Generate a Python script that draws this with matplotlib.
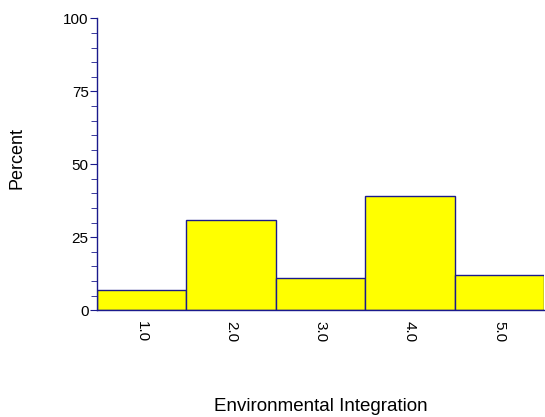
import numpy as np
import matplotlib
matplotlib.use("Agg")
import matplotlib.pyplot as plt
from matplotlib.ticker import MultipleLocator

plt.rcParams['font.family'] = ['Liberation Sans', 'DejaVu Sans']

categories = [1.0, 2.0, 3.0, 4.0, 5.0]
tick_labels = ["1.0", "2.0", "3.0", "4.0", "5.0"]
percent = [7, 31, 11, 39, 12]

navy = '#1a1a8c'

fig = plt.figure(figsize=(5.45, 4.17), dpi=100)
ax = fig.add_axes([0.178, 0.256, 0.820, 0.700])

ax.bar(categories, percent, width=1.0, color='#ffff00', edgecolor=navy, linewidth=1.0)

ax.set_xlim(0.5, 5.5)
ax.set_ylim(0, 100)
ax.yaxis.set_major_locator(MultipleLocator(25))
ax.yaxis.set_minor_locator(MultipleLocator(5))
ax.set_xticks(categories)
ax.set_xticklabels(tick_labels, rotation=270, fontsize=11)
ax.tick_params(axis='x', length=0, pad=8)
ax.tick_params(axis='y', which='major', length=5, color=navy, labelsize=11, pad=1)
ax.tick_params(axis='y', which='minor', length=4, color=navy)

for s in ['top', 'right']:
    ax.spines[s].set_visible(False)
for s in ['left', 'bottom']:
    ax.spines[s].set_color(navy)
    ax.spines[s].set_linewidth(1.0)

fig.text(0.589, 0.026, "Environmental Integration", ha='center', va='center', fontsize=13.5)
fig.text(0.031, 0.621, "Percent", ha='center', va='center', rotation=90, fontsize=13)

plt.savefig("out.png", dpi=100)
